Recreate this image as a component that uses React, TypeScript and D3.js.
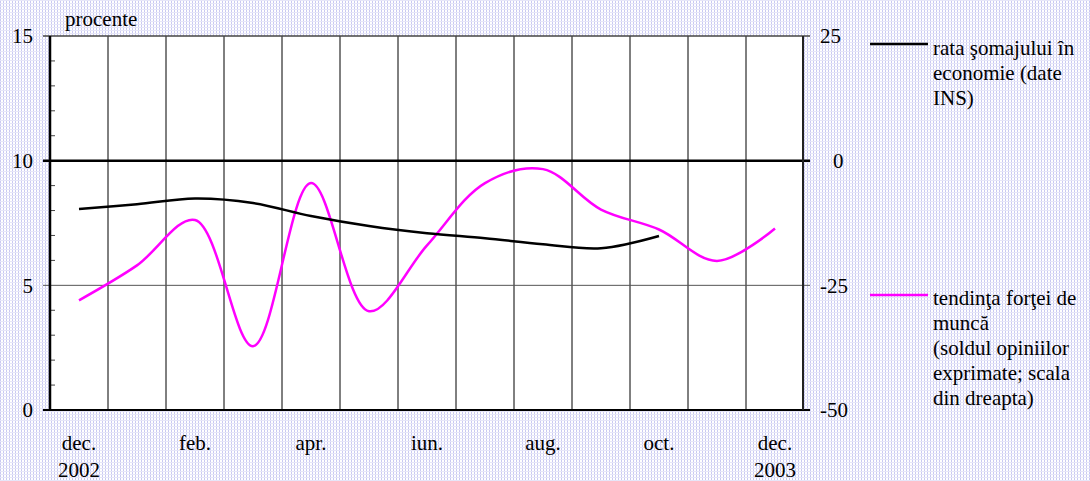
import React from "react";
import * as d3 from "d3";

const months = ["dec.", "ian.", "feb.", "mar.", "apr.", "mai", "iun.", "iul.", "aug.", "sep.", "oct.", "nov.", "dec."];
const shownLabels = ["dec.", "", "feb.", "", "apr.", "", "iun.", "", "aug.", "", "oct.", "", "dec."];
const yearLabels = ["2002", "", "", "", "", "", "", "", "", "", "", "", "2003"];
const unemployment = [8.06, 8.25, 8.48, 8.3, 7.78, 7.38, 7.09, 6.89, 6.65, 6.49, 6.98];
const labourTrend = [-28.0, -21.0, -11.9, -37.2, -4.5, -30.2, -17.0, -4.5, -1.7, -9.8, -13.8, -20.1, -13.6];
const leftTicks = [0, 5, 10, 15];
const rightTicks = [-50, -25, 0, 25];
const legend1 = ["rata şomajului în", "economie (date", "INS)"];
const legend2 = ["tendinţa forţei de", "muncă", "(soldul opiniilor", "exprimate; scala", "din dreapta)"];

export default function App() {
  const W = 1090, H = 481;
  const x = d3.scaleBand<number>().domain(d3.range(months.length)).range([50, 804]).paddingInner(0).paddingOuter(0);
  const yL = d3.scaleLinear().domain([0, 15]).range([410, 36]);
  const yR = d3.scaleLinear().domain([-50, 25]).range([410, 36]);
  const cx = (i: number) => (x(i) as number) + x.bandwidth() / 2;
  const lineL = d3.line<number>().x((_, i) => cx(i)).y((d) => yL(d)).curve(d3.curveCatmullRom.alpha(0.5));
  const lineR = d3.line<number>().x((_, i) => cx(i)).y((d) => yR(d)).curve(d3.curveCatmullRom.alpha(0.5));
  const font = "'Liberation Serif', 'Times New Roman', serif";
  const fs = 21;
  const left = 50, right = 803;
  const minor = d3.range(1, 15).filter((v) => v % 5 !== 0);

  return (
    <svg width={W} height={H} style={{ position: "absolute", left: 0, top: 0 }} fontFamily={font} fontSize={fs}>
      <defs>
        <pattern id="bg" width={3} height={3} patternUnits="userSpaceOnUse">
          <rect width={3} height={3} fill="#ffffff" />
          <rect x={0} y={0} width={1} height={3} fill="#c9c9f2" />
          <rect x={0} y={0} width={3} height={1} fill="#e6e6f8" />
        </pattern>
      </defs>
      <rect width={W} height={H} fill="url(#bg)" />
      <rect x={left} y={yL(15)} width={right - left} height={yL(0) - yL(15)} fill="#ffffff" />
      {d3.range(1, months.length).map((i) => (
        <line key={"v" + i} x1={x(i) as number} x2={x(i) as number} y1={yL(15)} y2={yL(0)} stroke="#000" strokeWidth={1} />
      ))}
      <line x1={43} x2={810} y1={yL(5)} y2={yL(5)} stroke="#555" strokeWidth={1} />
      <line x1={43} x2={810} y1={yL(15)} y2={yL(15)} stroke="#444" strokeWidth={1.5} />
      {minor.map((v) => (
        <line key={"m" + v} x1={left} x2={left + 5} y1={yL(v)} y2={yL(v)} stroke="#444" strokeWidth={1} />
      ))}
      <line x1={43} x2={810} y1={yL(10)} y2={yL(10)} stroke="#000" strokeWidth={2.5} />
      <line x1={43} x2={810} y1={yL(0)} y2={yL(0)} stroke="#000" strokeWidth={2} />
      <line x1={left} x2={left} y1={yL(15)} y2={yL(0)} stroke="#000" strokeWidth={2.5} />
      <line x1={right} x2={right} y1={yL(15)} y2={yL(0)} stroke="#222" strokeWidth={2} />
      <path d={lineR(labourTrend) || ""} fill="none" stroke="#ff00ff" strokeWidth={2.5} />
      <path d={lineL(unemployment) || ""} fill="none" stroke="#000" strokeWidth={2.5} />
      {leftTicks.map((v) => (
        <text key={"l" + v} x={33} y={yL(v)} dy="0.35em" textAnchor="end">{v}</text>
      ))}
      {rightTicks.map((v) => (
        <text key={"r" + v} x={v === 0 ? 833 : 820} y={yR(v)} dy="0.35em" textAnchor="start">{v}</text>
      ))}
      <text x={65} y={26}>procente</text>
      {shownLabels.map((m, i) => m ? (
        <text key={"x" + i} x={cx(i)} y={450} textAnchor="middle">{m}</text>
      ) : null)}
      {yearLabels.map((m, i) => m ? (
        <text key={"y" + i} x={cx(i)} y={477} textAnchor="middle">{m}</text>
      ) : null)}
      <line x1={870} x2={928} y1={44} y2={44} stroke="#000" strokeWidth={2.5} />
      {legend1.map((t, i) => (
        <text key={"a" + i} x={933} y={55 + i * 25}>{t}</text>
      ))}
      <line x1={870} x2={928} y1={295} y2={295} stroke="#ff00ff" strokeWidth={2.5} />
      {legend2.map((t, i) => (
        <text key={"b" + i} x={933} y={305 + i * 25}>{t}</text>
      ))}
    </svg>
  );
}
